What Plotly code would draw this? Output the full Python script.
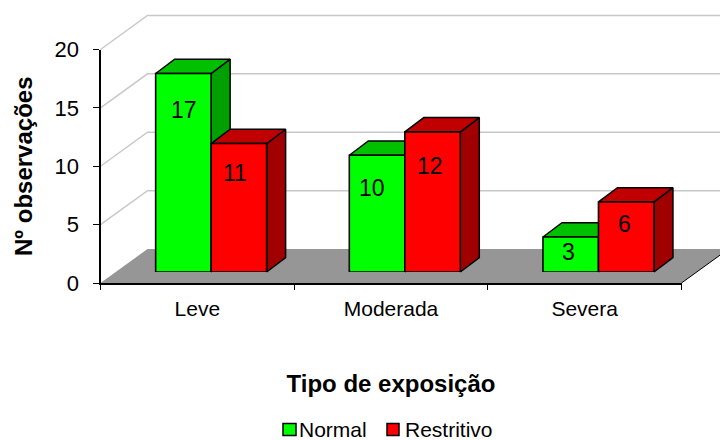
import plotly.graph_objects as go

# ---- data ----
categories = ["Leve", "Moderada", "Severa"]
normal = [17, 10, 3]
restritivo = [11, 12, 6]
y_ticks = [0, 5, 10, 15, 20]

# ---- canvas / projection constants (pixels) ----
W, H = 720, 440
AX_L, AX_R, AX_B, AX_T = 100.5, 681.5, 283.0, 49.5
PX_X = (AX_R - AX_L) / 3
PX_Y = (AX_B - AX_T) / 20
WALL_DX, WALL_DY = 47 / PX_X, 34 / PX_Y       # full chart depth
FRONT_PX, FRONT_PY = 13.8, 11.0               # bars' front plane offset
FRONT_DX, FRONT_DY = FRONT_PX / PX_X, FRONT_PY / PX_Y
BAR_DX, BAR_DY = 19 / PX_X, 14.3 / PX_Y       # bar depth
GROUP = 0.573
BAR_W = GROUP / 2
FONT = "Liberation Sans, Arial, sans-serif"
TICK_SIZE = 21

fig = go.Figure()
idx = list(range(len(categories)))
x0, x1 = -0.5, len(categories) - 0.5
y_top = y_ticks[-1]

def poly(xs, ys, fill, line="rgba(0,0,0,0)", width=0):
    fig.add_trace(go.Scatter(x=xs, y=ys, mode="lines", fill="toself", fillcolor=fill,
                             line=dict(color=line, width=width), hoverinfo="skip", showlegend=False))

# floor (drawn on the full-canvas hidden subplot x/y, which has the same scale as the axes)
poly([x0, x0 + WALL_DX, x1 + WALL_DX, x1, x0], [0, WALL_DY, WALL_DY, 0, 0], "#969696")

# walls' gridlines
gx, gy = [], []
for t in y_ticks[1:]:
    gx += [x0, x0 + WALL_DX, x1 + WALL_DX, None]
    gy += [t, t + WALL_DY, t + WALL_DY, None]
fig.add_trace(go.Scatter(x=gx, y=gy, mode="lines", line=dict(color="#C8C8C8", width=1.5),
                         hoverinfo="skip", showlegend=False))
# floor right edge
fig.add_trace(go.Scatter(x=[x1, x1 + WALL_DX], y=[0, WALL_DY], mode="lines",
                         line=dict(color="#000000", width=1), hoverinfo="skip", showlegend=False))

def faces(values, offset, top_col, side_col):
    sx, sy, tx, ty = [], [], [], []
    for i, v in zip(idx, values):
        l = i + offset * BAR_W + FRONT_DX
        r = l + BAR_W
        b = FRONT_DY
        t = v + FRONT_DY
        sx += [r, r + BAR_DX, r + BAR_DX, r, r, None]
        sy += [b, b + BAR_DY, t + BAR_DY, t, b, None]
        tx += [l, l + BAR_DX, r + BAR_DX, r, l, None]
        ty += [t, t + BAR_DY, t + BAR_DY, t, t, None]
    poly(sx, sy, side_col, "#000000", 1.5)
    poly(tx, ty, top_col, "#000000", 1.5)

faces(normal, -1, "#00C000", "#00A000")
faces(restritivo, 0, "#C00000", "#A00000")

# visible axes subplot x2/y2 (empty placeholder keeps it alive)
fig.add_trace(go.Scatter(x=[None], y=[None], xaxis="x2", yaxis="y2", hoverinfo="skip", showlegend=False))

# front faces: real bars on subplot x3/y3, shifted to the bars' depth plane
fig.add_bar(x=categories, y=normal, name="Normal", marker=dict(color="#00FF00", line=dict(color="#000000", width=1.6)),
            xaxis="x3", yaxis="y3", cliponaxis=False, showlegend=False)
fig.add_bar(x=categories, y=restritivo, name="Restritivo", marker=dict(color="#FF0000", line=dict(color="#000000", width=1.6)),
            xaxis="x3", yaxis="y3", cliponaxis=False, showlegend=False)

# value labels (pixel nudges relative to the top of each bar)
label_nudge_n = [(1, -36), (-5, -33), (-2, -15)]
label_nudge_r = [(-4, -29), (-3, -34), (-2, -22)]
annos = []
for vals, off, nudges in ((normal, -0.5, label_nudge_n), (restritivo, 0.5, label_nudge_r)):
    for i, v, (nx, ny) in zip(idx, vals, nudges):
        annos.append(dict(x=i + off * BAR_W, y=v, xref="x3", yref="y3", text=str(v), showarrow=False,
                          xshift=nx, yshift=ny, font=dict(family=FONT, size=23, color="#000000")))

# legend
shapes = []
for name, col, sx0, sx1, tx in (("Normal", "#00FF00", 283, 296, 296.5), ("Restritivo", "#FF0000", 387, 399, 403)):
    shapes.append(dict(type="rect", xref="paper", yref="paper", x0=sx0 / W, x1=sx1 / W,
                       y0=1 - 435.5 / H, y1=1 - 423.5 / H, fillcolor=col, line=dict(color="#000000", width=1.5)))
    annos.append(dict(x=tx / W, y=1 - 429.5 / H, xref="paper", yref="paper", text=name, showarrow=False,
                      xanchor="left", yanchor="middle", font=dict(family=FONT, size=TICK_SIZE, color="#000000")))

fig.update_layout(
    width=W, height=H, margin=dict(l=0, r=0, t=0, b=0, autoexpand=False), paper_bgcolor="white", plot_bgcolor="rgba(0,0,0,0)",
    barmode="group", bargap=1 - GROUP, bargroupgap=0, showlegend=False,
    annotations=annos, shapes=shapes,
    # full-canvas hidden axes at the same px scale as the visible ones
    xaxis=dict(domain=[0, 1], range=[x0 - AX_L / PX_X, x0 + (W - AX_L) / PX_X], anchor="y", visible=False),
    yaxis=dict(domain=[0, 1], range=[(AX_B - H) / PX_Y, AX_B / PX_Y], anchor="x", visible=False),
    xaxis2=dict(domain=[AX_L / W, AX_R / W], range=[x0, x1], anchor="y2", showgrid=False, zeroline=False,
                showline=True, linecolor="#000000", linewidth=2,
                tickmode="array", tickvals=idx, ticktext=categories, ticks="", ticklabelstandoff=6,
                tickfont=dict(family=FONT, size=TICK_SIZE, color="#000000"),
                minor=dict(tickmode="array", tickvals=[x0 + i for i in range(len(categories) + 1)], ticks="outside",
                           ticklen=5, tickwidth=1, tickcolor="#000000", showgrid=False),
                title=dict(text="<b>Tipo de exposição</b>", standoff=56, font=dict(family=FONT, size=24, color="#000000"))),
    yaxis2=dict(domain=[1 - AX_B / H, 1 - AX_T / H], range=[0, y_top], anchor="x2", showgrid=False, zeroline=False,
                showline=True, linecolor="#000000", linewidth=2,
                tickmode="array", tickvals=y_ticks, ticks="outside", ticklen=6, tickwidth=1, tickcolor="#000000",
                tickfont=dict(family=FONT, size=22, color="#000000"), ticklabelstandoff=9,
                title=dict(text="<b>Nº observações</b>", standoff=15, font=dict(family=FONT, size=24, color="#000000"))),
    xaxis3=dict(domain=[(AX_L + FRONT_PX) / W, (AX_R + FRONT_PX) / W], range=[x0, x1], anchor="y3", visible=False,
                type="category", categoryorder="array", categoryarray=categories),
    yaxis3=dict(domain=[1 - (AX_B - FRONT_PY) / H, 1 - (AX_T - FRONT_PY) / H], range=[0, y_top], anchor="x3", visible=False),
)

fig.write_html("out.html", config=dict(displayModeBar=False),
               post_script="document.body.style.margin='0';")
